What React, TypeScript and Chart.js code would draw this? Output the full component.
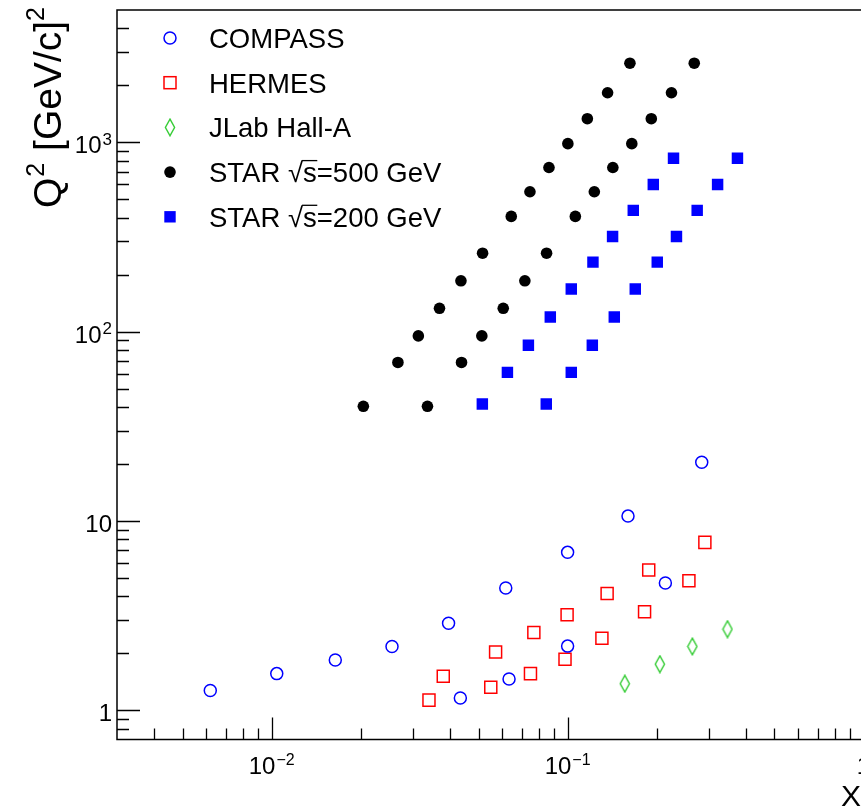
import React, { useEffect, useRef } from "react";
import { Chart, registerables } from "chart.js";

Chart.register(...registerables);

// ---------- data ----------
const compassX = [0.0062, 0.0104, 0.0164, 0.0255, 0.0396, 0.0434, 0.0618, 0.0634, 0.1, 0.1, 0.16, 0.214, 0.284];
const compassY = [1.27, 1.56, 1.84, 2.17, 2.88, 1.16, 4.42, 1.46, 6.82, 2.18, 10.6, 4.7, 20.4];

const hermesX = [0.034, 0.038, 0.055, 0.0571, 0.0749, 0.0769, 0.098, 0.0996, 0.1306, 0.136, 0.182, 0.188, 0.257, 0.291];
const hermesY = [1.13, 1.51, 1.32, 2.03, 1.56, 2.57, 1.86, 3.19, 2.4, 4.13, 3.31, 5.5, 4.83, 7.7];

const jlabX = [0.156, 0.205, 0.264, 0.347];
const jlabY = [1.38, 1.75, 2.17, 2.68];

const star500Q2 = [40.3, 68.7, 94.9, 132.8, 185.5, 259.5, 406, 548, 736, 984, 1333, 1827, 2618];
const star500XLow = [0.0204, 0.0267, 0.0313, 0.0369, 0.0436, 0.0516, 0.0645, 0.0746, 0.0865, 0.1002, 0.1166, 0.1365, 0.1624];
const star500XHigh = [0.0336, 0.0438, 0.0513, 0.0606, 0.0717, 0.0849, 0.1062, 0.1231, 0.1422, 0.1648, 0.1918, 0.2244, 0.2679];

const star200Q2 = [41.5, 60.9, 84.8, 119.5, 167.8, 232.8, 317.9, 437, 599, 824];
const star200XLow = [0.0515, 0.0626, 0.0737, 0.0874, 0.1029, 0.1218, 0.1419, 0.1667, 0.1948, 0.228];
const star200XHigh = [0.0847, 0.1029, 0.1212, 0.1438, 0.1693, 0.2009, 0.2333, 0.2741, 0.3213, 0.375];

const legendLabels = ["COMPASS", "HERMES", "JLab Hall-A", "STAR \u221As=500 GeV", "STAR \u221As=200 GeV"];

const xMajorTicks = [0.01, 0.1, 1];
const xMajorBase = ["10", "10", "1"];
const xMajorExp = ["\u22122", "\u22121", ""];
const yMajorTicks = [1, 10, 100, 1000];
const yMajorBase = ["1", "10", "10", "10"];
const yMajorExp = ["", "", "2", "3"];

const xTitle = "X";
const yTitleMain = "Q";
const yTitleSup = "2";
const yTitleRest = " [GeV/c]";

// ---------- styles ----------
const W = 900;
const H = 806;
const FONT = '"Liberation Sans", Arial, Helvetica, sans-serif';
const BLUE = "#0000ff";
const RED = "#ff0000";
const GREEN = "#33cc33";

function pts(xs: number[], ys: number[]) {
  return xs.map((x, i) => ({ x, y: ys[i] }));
}

function makeDiamond(): HTMLCanvasElement {
  const c = document.createElement("canvas");
  c.width = 12;
  c.height = 19;
  const g = c.getContext("2d")!;
  g.strokeStyle = GREEN;
  g.lineWidth = 1.4;
  g.beginPath();
  g.moveTo(6, 1.2);
  g.lineTo(10.6, 9.5);
  g.lineTo(6, 17.8);
  g.lineTo(1.4, 9.5);
  g.closePath();
  g.stroke();
  return c;
}

export default function App() {
  const ref = useRef<HTMLCanvasElement>(null);

  useEffect(() => {
    const canvas = ref.current;
    if (!canvas) return;
    const diamond = makeDiamond();

    const rootPlugin = {
      id: "rootStyle",
      afterDraw(chart: any) {
        const { ctx, chartArea: a, scales } = chart;
        const xs = scales.x;
        const ys = scales.y;
        ctx.save();
        ctx.strokeStyle = "#000";
        ctx.fillStyle = "#000";
        ctx.lineWidth = 1.5;
        ctx.strokeRect(a.left, a.top, a.right - a.left, a.bottom - a.top);

        ctx.lineWidth = 1.3;
        ctx.beginPath();
        for (let e = -3; e <= 0; e++) {
          for (let m = 1; m <= 9; m++) {
            const v = m * Math.pow(10, e);
            if (v < xs.min * 1.0001 || v > xs.max * 0.9999) continue;
            const px = Math.round(xs.getPixelForValue(v)) + 0.5;
            const len = m === 1 ? 22 : 11;
            ctx.moveTo(px, a.bottom);
            ctx.lineTo(px, a.bottom - len);
          }
        }
        for (let e = -1; e <= 3; e++) {
          for (let m = 1; m <= 9; m++) {
            const v = m * Math.pow(10, e);
            if (v < ys.min * 1.0001 || v > ys.max * 0.9999) continue;
            const py = Math.round(ys.getPixelForValue(v)) + 0.5;
            const len = m === 1 ? 23 : 12;
            ctx.moveTo(a.left, py);
            ctx.lineTo(a.left + len, py);
          }
        }
        ctx.stroke();

        // x tick labels
        ctx.textBaseline = "alphabetic";
        ctx.textAlign = "left";
        xMajorTicks.forEach((v, i) => {
          const px = xs.getPixelForValue(v);
          ctx.font = `24px ${FONT}`;
          const bw = ctx.measureText(xMajorBase[i]).width;
          ctx.font = `16px ${FONT}`;
          const ew = xMajorExp[i] ? ctx.measureText(xMajorExp[i]).width + 1 : 0;
          const x0 = px - (bw + ew) / 2;
          ctx.font = `24px ${FONT}`;
          ctx.fillText(xMajorBase[i], x0, 774);
          if (xMajorExp[i]) {
            ctx.font = `16px ${FONT}`;
            ctx.fillText(xMajorExp[i], x0 + bw + 1, 765);
          }
        });

        // y tick labels
        yMajorTicks.forEach((v, i) => {
          const py = ys.getPixelForValue(v);
          const right = 112;
          ctx.font = `17px ${FONT}`;
          const ew = yMajorExp[i] ? ctx.measureText(yMajorExp[i]).width + 1 : 0;
          ctx.font = `24px ${FONT}`;
          const bw = ctx.measureText(yMajorBase[i]).width;
          const x0 = right - ew - bw;
          ctx.fillText(yMajorBase[i], x0, py + 11);
          if (yMajorExp[i]) {
            ctx.font = `17px ${FONT}`;
            ctx.fillText(yMajorExp[i], x0 + bw + 1, py + 2.5);
          }
        });

        // x title
        ctx.font = `30px ${FONT}`;
        ctx.textAlign = "right";
        ctx.fillText(xTitle, 861, 806);

        // y title (rotated)
        ctx.save();
        ctx.translate(61, 0);
        ctx.rotate(-Math.PI / 2);
        ctx.textAlign = "left";
        const bigF = `39px ${FONT}`;
        const supF = `25px ${FONT}`;
        ctx.font = bigF;
        const wQ = ctx.measureText(yTitleMain).width;
        const wR = ctx.measureText(yTitleRest).width;
        ctx.font = supF;
        const wS = ctx.measureText(yTitleSup).width;
        const total = wQ + wS + 2 + wR + wS;
        let tx = -(7 + total);
        ctx.font = bigF;
        ctx.fillText(yTitleMain, tx, 0);
        tx += wQ + 1;
        ctx.font = supF;
        ctx.fillText(yTitleSup, tx, -17);
        tx += wS + 1;
        ctx.font = bigF;
        ctx.fillText(yTitleRest, tx, 0);
        tx += wR;
        ctx.font = supF;
        ctx.fillText(yTitleSup, tx, -17);
        ctx.restore();

        // legend
        const rowY = [38, 82.7, 127.4, 172.1, 216.8];
        const mx = 170;
        const tx0 = 209;
        rowY.forEach((yy, i) => {
          ctx.save();
          if (i === 0) {
            ctx.strokeStyle = BLUE;
            ctx.lineWidth = 1.5;
            ctx.beginPath();
            ctx.arc(mx, yy, 6, 0, Math.PI * 2);
            ctx.stroke();
          } else if (i === 1) {
            ctx.strokeStyle = RED;
            ctx.lineWidth = 1.5;
            ctx.strokeRect(mx - 6, yy - 6, 12, 12);
          } else if (i === 2) {
            ctx.drawImage(diamond, mx - diamond.width / 2, yy - diamond.height / 2);
          } else if (i === 3) {
            ctx.fillStyle = "#000";
            ctx.beginPath();
            ctx.arc(mx, yy, 5.8, 0, Math.PI * 2);
            ctx.fill();
          } else {
            ctx.fillStyle = BLUE;
            ctx.fillRect(mx - 5.7, yy - 5.7, 11.4, 11.4);
          }
          ctx.restore();

          ctx.font = `27.5px ${FONT}`;
          ctx.fillStyle = "#000";
          ctx.textAlign = "left";
          const label = legendLabels[i];
          const base = yy + 9.8;
          const k = label.indexOf("\u221A");
          if (k < 0) {
            ctx.fillText(label, tx0, base);
          } else {
            let x = tx0;
            const pre = label.slice(0, k);
            ctx.fillText(pre, x, base);
            x += ctx.measureText(pre).width;
            const root = "\u221A";
            const mr = ctx.measureText(root);
            ctx.fillText(root, x, base);
            const topY = base - (mr.actualBoundingBoxAscent || 20);
            const sx = x + mr.width;
            const s = label[k + 1];
            ctx.fillText(s, sx, base);
            const sw = ctx.measureText(s).width;
            ctx.lineWidth = 1.3;
            ctx.beginPath();
            ctx.moveTo(sx - 1, topY + 0.7);
            ctx.lineTo(sx + sw + 0.5, topY + 0.7);
            ctx.stroke();
            ctx.fillText(label.slice(k + 2), sx + sw, base);
          }
        });

        ctx.restore();
      },
    };

    const chart = new Chart(canvas, {
      type: "scatter",
      data: {
        datasets: [
          {
            label: legendLabels[0],
            data: pts(compassX, compassY),
            pointStyle: "circle",
            pointRadius: 6,
            borderWidth: 1.5,
            borderColor: BLUE,
            backgroundColor: "rgba(0,0,0,0)",
          },
          {
            label: legendLabels[1],
            data: pts(hermesX, hermesY),
            pointStyle: "rect",
            pointRadius: 8.5,
            borderWidth: 1.5,
            borderColor: RED,
            backgroundColor: "rgba(0,0,0,0)",
          },
          {
            label: legendLabels[2],
            data: pts(jlabX, jlabY),
            pointStyle: diamond as any,
            pointRadius: 8,
            borderWidth: 0,
            borderColor: GREEN,
            backgroundColor: "rgba(0,0,0,0)",
          },
          {
            label: legendLabels[3],
            data: [...pts(star500XLow, star500Q2), ...pts(star500XHigh, star500Q2)],
            pointStyle: "circle",
            pointRadius: 5.8,
            borderWidth: 0,
            borderColor: "#000",
            backgroundColor: "#000",
          },
          {
            label: legendLabels[4],
            data: [...pts(star200XLow, star200Q2), ...pts(star200XHigh, star200Q2)],
            pointStyle: "rect",
            pointRadius: 8.1,
            borderWidth: 0,
            borderColor: BLUE,
            backgroundColor: BLUE,
          },
        ],
      },
      options: {
        animation: false,
        responsive: false,
        maintainAspectRatio: false,
        devicePixelRatio: 1,
        layout: { padding: { left: 117, top: 7, right: W - 863.5, bottom: H - 739.5 } },
        scales: {
          x: { type: "logarithmic", min: 0.003, max: 1, display: false },
          y: { type: "logarithmic", min: 0.7, max: 5000, display: false },
        },
        plugins: { legend: { display: false }, tooltip: { enabled: false } },
        elements: { point: { hoverRadius: 0 } },
      },
      plugins: [rootPlugin],
    } as any);

    return () => chart.destroy();
  }, []);

  return (
    <div
      style={{
        position: "fixed",
        left: 0,
        top: 0,
        width: 861,
        height: 806,
        overflow: "hidden",
        background: "#fff",
      }}
    >
      <canvas ref={ref} width={W} height={H} style={{ display: "block", width: W, height: H }} />
    </div>
  );
}
